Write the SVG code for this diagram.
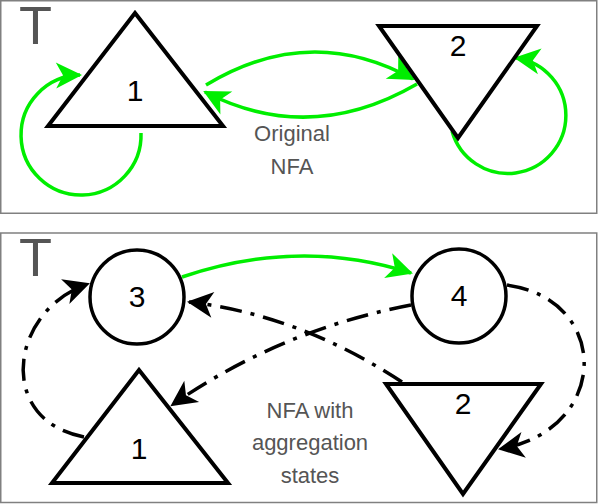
<svg xmlns="http://www.w3.org/2000/svg" width="598" height="504" viewBox="0 0 598 504">
<style>
.panel{fill:#fff;stroke:#808080;stroke-width:1.5}
.node{fill:#fff;stroke:#000;stroke-width:4;stroke-linejoin:miter}
.circ{fill:#fff;stroke:#000;stroke-width:3.5}
.lbl{font-family:"Liberation Sans",Arial,sans-serif;font-size:30px;fill:#000;text-anchor:middle}
.cap{font-family:"Liberation Sans",Arial,sans-serif;font-size:22px;fill:#555;text-anchor:middle}
.tt{font-family:"Liberation Sans",Arial,sans-serif;font-size:54px;fill:#555}
.g{fill:none;stroke:#00ee00;stroke-width:3.5;marker-end:url(#ag)}
.k{fill:none;stroke:#000;stroke-width:3.5;stroke-dasharray:22,9,4,9;marker-end:url(#ak)}
</style>
<defs>
<marker id="ag" markerUnits="userSpaceOnUse" refX="0" refY="0" markerWidth="40" markerHeight="40" orient="auto" overflow="visible">
<path d="M2,0 L-24,-13 L-17,0 L-24,13 Z" fill="#00ee00"/>
</marker>
<marker id="ak" markerUnits="userSpaceOnUse" refX="0" refY="0" markerWidth="40" markerHeight="40" orient="auto" overflow="visible">
<path d="M2,0 L-24,-13 L-17,0 L-24,13 Z" fill="#000"/>
</marker>
</defs>
<rect class="panel" x="0.75" y="0.75" width="596" height="212.5"/>
<rect class="panel" x="0.75" y="233" width="596" height="269.5"/>
<text class="tt" x="19" y="44">T</text>
<text class="tt" x="19" y="276">T</text>
<g id="edges">
<path class="g" d="M141,133 A60,60 0 1 1 80,75"/>
<path class="g" d="M452,131 A58,58 0 1 0 516,58"/>
<path class="g" d="M206,85 Q310,22 413,79"/>
<path class="g" d="M417,84 Q310,146 205,92"/>
<path class="g" d="M182,277 Q300,237 411,273"/>
<path class="k" d="M507,285 C612,300 610,430 500,449"/>
<path class="k" d="M411,305 Q280,330 172,405"/>
<path class="k" d="M402,382 Q300,315 189,302"/>
<path class="k" d="M84,437 C-5,420 10,310 88,284"/>
</g>
<g id="n1top"><polygon class="node" points="135,13 223,126 48,126"/><text class="lbl" x="135" y="101">1</text></g>
<g id="n2top"><polygon class="node" points="379,26 537,26 458,138"/><text class="lbl" x="458" y="56">2</text></g>
<g id="n3"><circle class="circ" cx="137" cy="297" r="47"/><text class="lbl" x="137" y="307">3</text></g>
<g id="n4"><circle class="circ" cx="459" cy="296" r="47"/><text class="lbl" x="459" y="306">4</text></g>
<g id="n1bot"><polygon class="node" points="139,370 228,483 52,483"/><text class="lbl" x="139" y="459">1</text></g>
<g id="n2bot"><polygon class="node" points="386,384 541,384 463,494"/><text class="lbl" x="463" y="414">2</text></g>
<text class="cap" x="292" y="141">Original</text>
<text class="cap" x="292" y="174">NFA</text>
<text class="cap" x="310" y="418">NFA with</text>
<text class="cap" x="310" y="450">aggregation</text>
<text class="cap" x="310" y="483">states</text>
</svg>
